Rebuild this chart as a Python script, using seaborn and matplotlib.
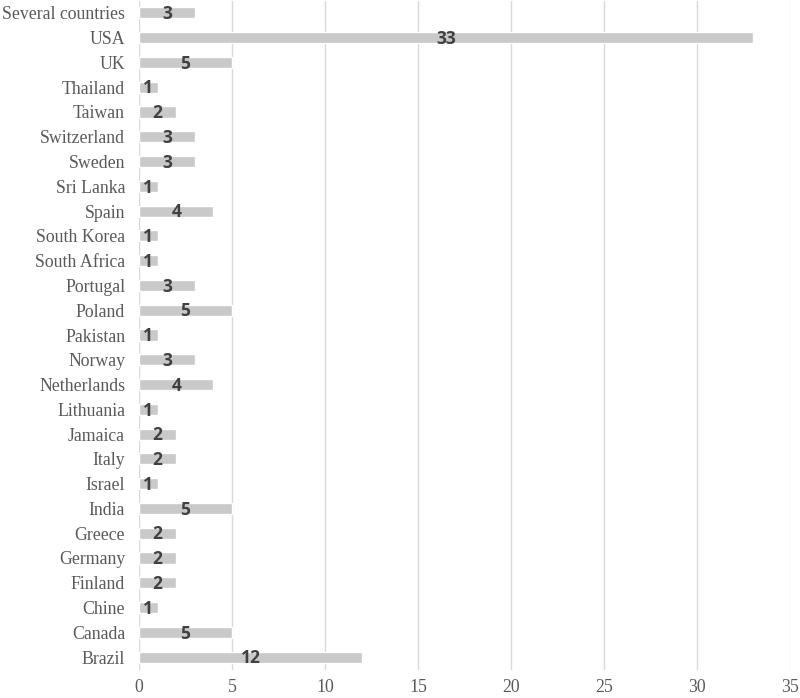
import numpy as np
import pandas as pd
import matplotlib.pyplot as plt
import seaborn as sns

# countries listed top to bottom as in the chart
countries = ['Several countries', 'USA', 'UK', 'Thailand', 'Taiwan', 'Switzerland',
             'Sweden', 'Sri Lanka', 'Spain', 'South Korea', 'South Africa', 'Portugal',
             'Poland', 'Pakistan', 'Norway', 'Netherlands', 'Lithuania', 'Jamaica',
             'Italy', 'Israel', 'India', 'Greece', 'Germany', 'Finland', 'Chine',
             'Canada', 'Brazil']
counts = [3, 33, 5, 1, 2, 3, 3, 1, 4, 1, 1, 3, 5, 1, 3, 4, 1, 2, 2, 1, 5, 2, 2, 2, 1, 5, 12]

df = pd.DataFrame({'Country': countries, 'Count': counts})

sns.set_style('white')
plt.rcParams['font.family'] = ['Liberation Serif', 'DejaVu Serif']

fig = plt.figure(figsize=(8, 6.98), dpi=100)
ax = fig.add_axes([139/800, 1 - 669.5/698, (790 - 139)/800, 669/698])

sns.barplot(data=df, y='Country', x='Count', color='#c9c9c9', width=0.45,
            saturation=1, ax=ax, zorder=3)

for i, v in enumerate(counts):
    ax.text(v / 2, i + 0.05, str(v), ha='center', va='center', fontsize=12.5,
            fontweight='bold', color='#404040', family='Open Sans', zorder=4)

ax.set_xlim(0, 35)
ax.set_xticks(np.arange(0, 36, 5))
ax.set_ylim(len(countries) - 0.5, -0.5)
ax.xaxis.grid(True, color='#d9d9d9', linewidth=1, zorder=0)
ax.yaxis.grid(False)
for s in ax.spines.values():
    s.set_visible(False)
ax.set_xlabel('')
ax.set_ylabel('')
ax.tick_params(axis='both', length=0, labelsize=12.8, colors='#595959')
ax.tick_params(axis='y', pad=10)
ax.tick_params(axis='x', pad=7)

fig.savefig('out.png', dpi=100)
